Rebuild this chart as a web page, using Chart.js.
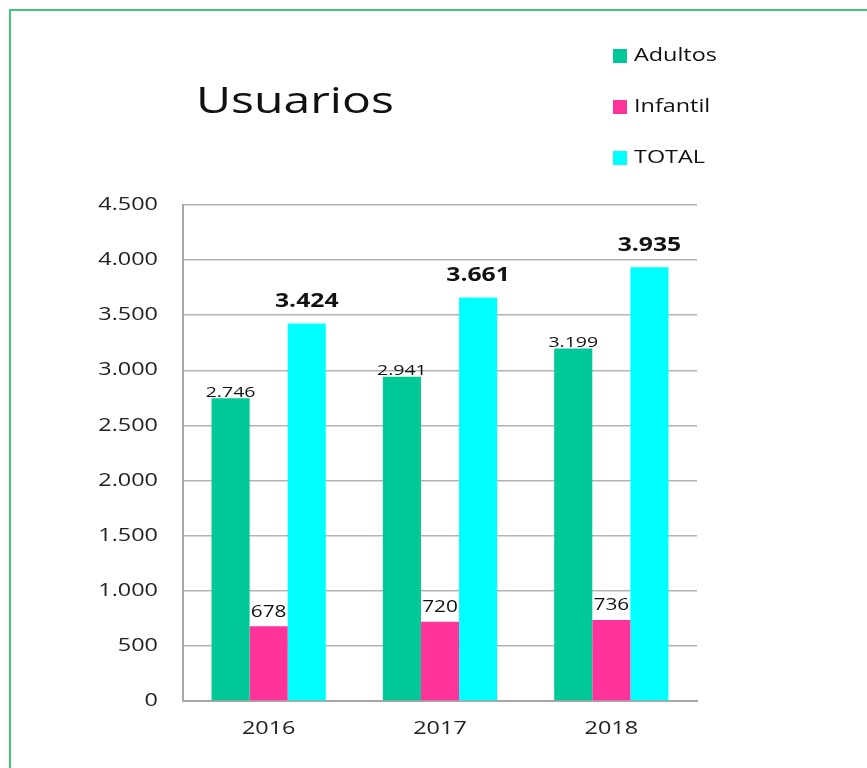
<!DOCTYPE html>
<html>
<head>
<meta charset="utf-8">
<script src="https://cdn.jsdelivr.net/npm/chart.js@4"></script>
<style>
  html, body { margin: 0; padding: 0; background: #fff; }
  #wrap { width: 867px; height: 768px; position: relative; }
</style>
</head>
<body>
<div id="wrap"><canvas id="chartCanvas"></canvas></div>
<script>
const years = ['2016', '2017', '2018'];
const adultos = [2746, 2941, 3199];
const infantil = [678, 720, 736];
const total = [3424, 3661, 3935];
const seriesNames = ['Adultos', 'Infantil', 'TOTAL'];
const seriesColors = ['#00C896', '#FF3399', '#00FFFF'];
const chartTitle = 'Usuarios';

const FONT = "'Open Sans', 'DejaVu Sans', sans-serif";
const STRETCH = 1.3; // the reference text is drawn wide

function fmt(v) {
    return String(v).replace(/\B(?=(\d{3})+(?!\d))/g, '.');
}

function wideText(ctx, text, x, y, align) {
    ctx.save();
    ctx.translate(x, y);
    ctx.scale(STRETCH, 1);
    ctx.textAlign = align;
    ctx.fillText(text, 0, 0);
    ctx.restore();
}

// frame, title, legend, axis labels and value labels
const decorations = {
    id: 'decorations',
    beforeDraw(chart) {
        const ctx = chart.ctx;
        ctx.save();
        ctx.fillStyle = '#fff';
        ctx.fillRect(0, 0, chart.width, chart.height);
        ctx.strokeStyle = '#3CC878';
        ctx.lineWidth = 2;
        ctx.beginPath();
        ctx.moveTo(10, chart.height);
        ctx.lineTo(10, 10);
        ctx.lineTo(chart.width, 10);
        ctx.stroke();
        ctx.restore();
    },
    afterDraw(chart) {
        const ctx = chart.ctx;
        ctx.save();
        ctx.fillStyle = '#111';
        ctx.textBaseline = 'middle';
        ctx.font = '37px ' + FONT;
        wideText(ctx, chartTitle, 196, 102, 'left');

        ctx.font = '18px ' + FONT;
        chart.data.datasets.forEach((ds, i) => {
            const y = 56 + i * 51;
            ctx.fillStyle = ds.backgroundColor;
            ctx.fillRect(613, y - 7, 14, 14);
            ctx.fillStyle = '#111';
            wideText(ctx, ds.label, 634, y, 'left');
        });

        // axis tick labels
        ctx.fillStyle = '#222';
        ctx.font = '18px ' + FONT;
        const ys = chart.scales.y;
        ys.ticks.forEach((t) => {
            wideText(ctx, fmt(t.value), ys.right - 25, ys.getPixelForValue(t.value), 'right');
        });
        const xs = chart.scales.x;
        chart.data.labels.forEach((lab, i) => {
            wideText(ctx, lab, xs.getPixelForValue(i), xs.top + 28, 'center');
        });
        ctx.restore();
    },
    afterDatasetsDraw(chart) {
        const ctx = chart.ctx;
        ctx.save();
        ctx.textBaseline = 'middle';
        ctx.fillStyle = '#111';
        chart.data.datasets.forEach((ds, i) => {
            const meta = chart.getDatasetMeta(i);
            meta.data.forEach((bar, j) => {
                let off;
                if (i === 0) { ctx.font = '15px ' + FONT; off = 6; }
                else if (i === 1) { ctx.font = '16px ' + FONT; off = 14; }
                else { ctx.font = 'bold 19px ' + FONT; off = 22; }
                wideText(ctx, fmt(ds.data[j]), bar.x, bar.y - off, 'center');
            });
        });
        ctx.restore();
    }
};

const datasets = [adultos, infantil, total].map((vals, i) => ({
    label: seriesNames[i],
    data: vals,
    backgroundColor: seriesColors[i],
    categoryPercentage: 0.667,
    barPercentage: 1.0
}));

new Chart(document.getElementById('chartCanvas'), {
    type: 'bar',
    data: { labels: years, datasets: datasets },
    options: {
        responsive: true,
        maintainAspectRatio: false,
        animation: false,
        layout: { padding: { top: 205, right: 170, left: 0, bottom: 0 } },
        plugins: {
            legend: { display: false },
            title: { display: false },
            tooltip: { enabled: false }
        },
        scales: {
            x: {
                grid: { display: false, drawTicks: false },
                border: { color: '#A6A6A6', width: 2 },
                ticks: { color: 'rgba(0,0,0,0)', font: { family: FONT, size: 18 }, padding: 16 },
                afterFit(scale) { scale.height = 67; }
            },
            y: {
                min: 0,
                max: 4500,
                grid: { color: '#B4B4B4', lineWidth: 1.5, drawTicks: false },
                border: { color: '#A6A6A6', width: 2 },
                ticks: {
                    stepSize: 500,
                    color: 'rgba(0,0,0,0)',
                    font: { family: FONT, size: 18 },
                    padding: 24,
                    callback: (v) => fmt(v)
                },
                afterFit(scale) { scale.width = 183; }
            }
        }
    },
    plugins: [decorations]
});
</script>
</body>
</html>
